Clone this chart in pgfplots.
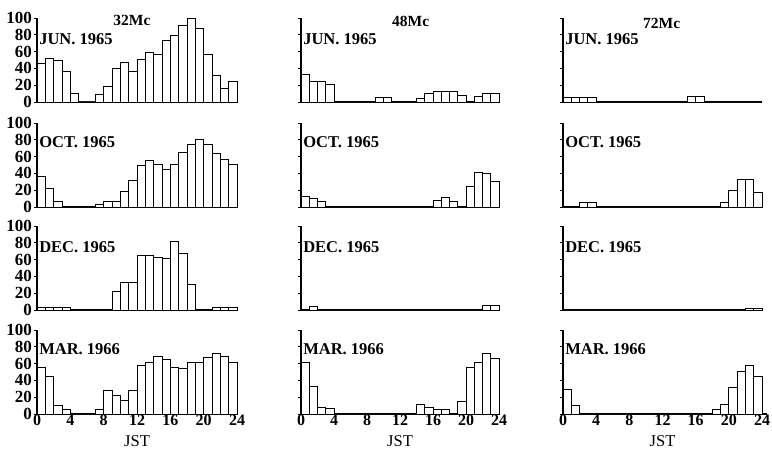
\documentclass[border=0pt]{standalone}
\usepackage{fontspec}
\setmainfont{Liberation Serif}
\usepackage{pgfplots}
\pgfplotsset{compat=1.18}
\pgfplotsset{
  panel/.style={
    scale only axis, height=84pt,
    xmin=0, xmax=24, ymin=0, ymax=100,
    axis x line*=bottom, axis y line*=left,
    axis line style={-, line width=1.3pt},
    xtick=\empty, ytick={0,20,...,100},
    tick align=outside, major tick length=3pt,
    ytick style={line width=0.8pt, black},
    xtick style={draw=none},
    clip=false, anchor=south west,
    /pgf/number format/assume math mode=true,
    yticklabel style={font=\fontsize{17}{17}\selectfont\bfseries, xshift=1.5pt},
    xticklabel style={font=\fontsize{16}{16}\selectfont\bfseries, yshift=3pt, inner sep=1pt},
  },
  nolab/.style={yticklabels={}},
  bottomrow/.style={xtick={0,4,...,24}, xlabel={JST},
    xlabel style={font=\fontsize{16.5}{16.5}\selectfont, at={(axis description cs:0.5,0)},
      anchor=north, yshift=-21pt, inner sep=0pt}},
  bars/.style={ybar interval, fill=white, draw=black, line width=0.8pt},
}
\tikzset{
  lab/.style={anchor=west, font=\fontsize{16.5}{16.5}\selectfont\bfseries, inner sep=0pt},
  ttl/.style={font=\fontsize{15.5}{15.5}\selectfont\bfseries, inner sep=0pt},
}
\begin{document}
\begin{tikzpicture}
\path[use as bounding box] (0pt,0pt) rectangle (772pt,451pt);
% ---------------- 32 Mc ----------------
\begin{axis}[panel, width=200pt, at={(37pt,349pt)}]
\addplot[bars] coordinates {(0,46)(1,52)(2,49)(3,36)(4,10)(5,0)(6,0)(7,9)(8,18)(9,40)(10,47)(11,37)(12,51)(13,59)(14,57)(15,73)(16,79)(17,91)(18,99)(19,88)(20,57)(21,32)(22,16)(23,24)(24,0)};
\node[lab] at (axis cs:0.25,75) {JUN. 1965};
\node[ttl] at (axis cs:11.4,97) {32Mc};
\end{axis}
\begin{axis}[panel, width=200pt, at={(37pt,244pt)}]
\addplot[bars] coordinates {(0,36)(1,22)(2,7)(3,0)(4,0)(5,0)(6,0)(7,3)(8,7)(9,7)(10,19)(11,32)(12,49)(13,56)(14,51)(15,45)(16,51)(17,65)(18,74)(19,81)(20,74)(21,64)(22,57)(23,51)(24,0)};
\node[lab] at (axis cs:0.25,77) {OCT. 1965};
\end{axis}
\begin{axis}[panel, width=200pt, at={(37pt,141pt)}]
\addplot[bars] coordinates {(0,3)(1,3)(2,3)(3,3)(4,0)(5,0)(6,0)(7,0)(8,0)(9,22)(10,33)(11,33)(12,65)(13,65)(14,63)(15,62)(16,82)(17,67)(18,31)(19,0)(20,0)(21,3)(22,3)(23,3)(24,0)};
\node[lab] at (axis cs:0.25,75) {DEC. 1965};
\end{axis}
\begin{axis}[panel, bottomrow, width=200pt, at={(37pt,37pt)}]
\addplot[bars] coordinates {(0,56)(1,45)(2,10)(3,6)(4,0)(5,0)(6,0)(7,5)(8,28)(9,22)(10,16)(11,28)(12,58)(13,62)(14,69)(15,65)(16,56)(17,54)(18,62)(19,62)(20,67)(21,72)(22,69)(23,62)(24,0)};
\node[lab] at (axis cs:0.25,77) {MAR. 1966};
\end{axis}
% ---------------- 48 Mc ----------------
\begin{axis}[panel, nolab, width=198pt, at={(301pt,349pt)}]
\addplot[bars] coordinates {(0,33)(1,24)(2,24)(3,21)(4,0)(5,0)(6,0)(7,0)(8,0)(9,6)(10,6)(11,0)(12,0)(13,0)(14,4)(15,10)(16,13)(17,13)(18,13)(19,8)(20,0)(21,7)(22,10)(23,10)(24,0)};
\node[lab] at (axis cs:0.25,75) {JUN. 1965};
\node[ttl] at (axis cs:13.3,96) {48Mc};
\end{axis}
\begin{axis}[panel, nolab, width=198pt, at={(301pt,244pt)}]
\addplot[bars] coordinates {(0,13)(1,10)(2,7)(3,0)(4,0)(5,0)(6,0)(7,0)(8,0)(9,0)(10,0)(11,0)(12,0)(13,0)(14,0)(15,0)(16,8)(17,11)(18,7)(19,0)(20,24)(21,41)(22,40)(23,30)(24,0)};
\node[lab] at (axis cs:0.25,77) {OCT. 1965};
\end{axis}
\begin{axis}[panel, nolab, width=198pt, at={(301pt,141pt)}]
\addplot[bars] coordinates {(0,0)(1,4)(2,0)(3,0)(4,0)(5,0)(6,0)(7,0)(8,0)(9,0)(10,0)(11,0)(12,0)(13,0)(14,0)(15,0)(16,0)(17,0)(18,0)(19,0)(20,0)(21,0)(22,6)(23,6)(24,0)};
\node[lab] at (axis cs:0.25,75) {DEC. 1965};
\end{axis}
\begin{axis}[panel, nolab, bottomrow, width=198pt, at={(301pt,37pt)}]
\addplot[bars] coordinates {(0,62)(1,33)(2,8)(3,7)(4,0)(5,0)(6,0)(7,0)(8,0)(9,0)(10,0)(11,0)(12,0)(13,0)(14,12)(15,8)(16,5)(17,5)(18,0)(19,15)(20,55)(21,61)(22,72)(23,66)(24,0)};
\node[lab] at (axis cs:0.25,77) {MAR. 1966};
\end{axis}
% ---------------- 72 Mc ----------------
\begin{axis}[panel, nolab, width=199pt, at={(563pt,349pt)}]
\addplot[bars] coordinates {(0,6)(1,6)(2,6)(3,6)(4,0)(5,0)(6,0)(7,0)(8,0)(9,0)(10,0)(11,0)(12,0)(13,0)(14,0)(15,7)(16,7)(17,0)(18,0)(19,0)(20,0)(21,0)(22,0)(23,0)(24,0)};
\node[lab] at (axis cs:0.25,75) {JUN. 1965};
\node[ttl] at (axis cs:11.9,94) {72Mc};
\end{axis}
\begin{axis}[panel, nolab, width=199pt, at={(563pt,244pt)}]
\addplot[bars] coordinates {(0,0)(1,0)(2,5)(3,5)(4,0)(5,0)(6,0)(7,0)(8,0)(9,0)(10,0)(11,0)(12,0)(13,0)(14,0)(15,0)(16,0)(17,0)(18,0)(19,5)(20,20)(21,33)(22,33)(23,17)(24,0)};
\node[lab] at (axis cs:0.25,77) {OCT. 1965};
\end{axis}
\begin{axis}[panel, nolab, width=199pt, at={(563pt,141pt)}]
\addplot[bars] coordinates {(0,0)(1,0)(2,0)(3,0)(4,0)(5,0)(6,0)(7,0)(8,0)(9,0)(10,0)(11,0)(12,0)(13,0)(14,0)(15,0)(16,0)(17,0)(18,0)(19,0)(20,0)(21,0)(22,2)(23,2)(24,0)};
\node[lab] at (axis cs:0.25,75) {DEC. 1965};
\end{axis}
\begin{axis}[panel, nolab, bottomrow, width=199pt, at={(563pt,37pt)},
  x axis line style={shorten >=-5pt}]
\addplot[bars] coordinates {(0,29)(1,10)(2,0)(3,0)(4,0)(5,0)(6,0)(7,0)(8,0)(9,0)(10,0)(11,0)(12,0)(13,0)(14,0)(15,0)(16,0)(17,0)(18,6)(19,11)(20,32)(21,51)(22,58)(23,45)(24,0)};
\node[lab] at (axis cs:0.25,77) {MAR. 1966};
\end{axis}
\end{tikzpicture}
\end{document}
